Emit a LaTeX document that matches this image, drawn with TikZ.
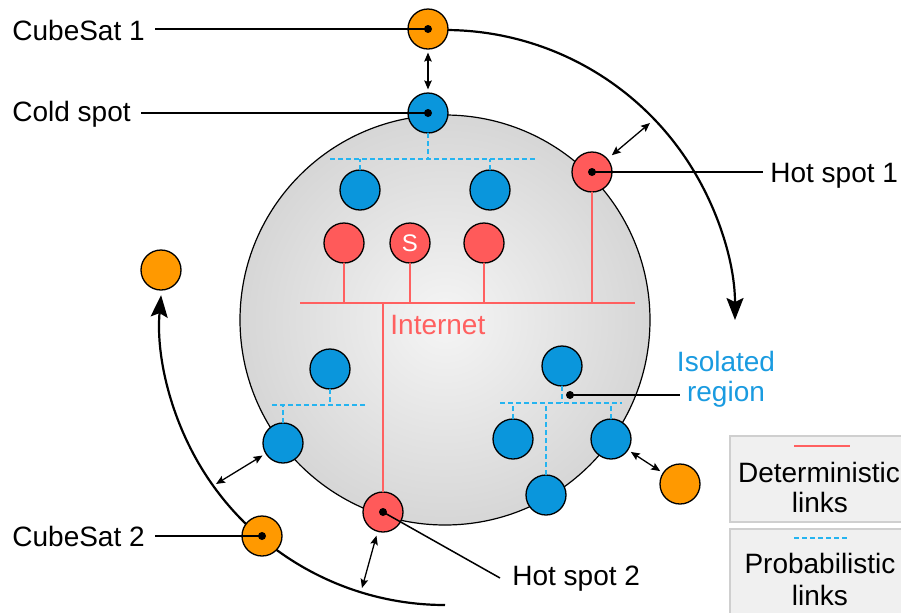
\documentclass[tikz,border=0pt]{standalone}
\usepackage{fontspec}
\setmainfont{Liberation Sans}
\usetikzlibrary{arrows.meta}
\definecolor{satorange}{HTML}{FF9900}
\definecolor{nodeblue}{HTML}{0A96DC}
\definecolor{nodered}{HTML}{FF5A5A}
\definecolor{linkred}{HTML}{FF6060}
\definecolor{linkblue}{HTML}{25B4F0}
\definecolor{txtblue}{HTML}{1A9BE0}
\definecolor{legfill}{HTML}{F0F0F0}
\definecolor{legdraw}{HTML}{CFCFCF}
\begin{document}
\begin{tikzpicture}[x=0.5pt,y=-0.5pt,
  sat/.style={circle, draw=black, line width=0.65pt, minimum size=20pt, inner sep=0pt, outer sep=0pt},
  cubesat/.style={sat, fill=satorange},
  coldnode/.style={sat, fill=nodeblue},
  hotnode/.style={sat, fill=nodered},
  dotmark/.style={circle, fill=black, minimum size=4pt, inner sep=0pt},
  lbl/.style={inner sep=0pt, font=\fontsize{14}{16}\selectfont},
  pin/.style={line width=0.75pt},
  det/.style={draw=linkred, line width=1pt},
  prob/.style={draw=linkblue, line width=1pt, dash pattern=on 2.5pt off 1.5pt},
  dbl/.style={{Stealth[length=4.5pt,width=3.8pt,inset=0.8pt]}-{Stealth[length=4.5pt,width=3.8pt,inset=0.8pt]},
              line width=0.65pt, shorten <=1.8pt, shorten >=1.8pt},
  orbit/.style={-{Stealth[length=11pt,width=8.5pt,inset=2pt]}, line width=1.1pt},
  legbox/.style={fill=legfill, draw=legdraw, line width=0.6pt}
]
\clip (0,0) rectangle (901,612);

% Earth
\node[circle, draw=black, line width=0.6pt, minimum size=205pt, inner sep=0pt, outer sep=0pt,
      inner color=white!96!black, outer color=white!84!black] (earth) at (445,320) {};

% Orbits
\draw[orbit] (earth.center) ++(-93:290) arc[start angle=-93, end angle=0, radius=290];
\draw[orbit] (earth.center) ++(90:285) arc[start angle=90, end angle=185, radius=285];

% Bus ends
\coordinate (cbL) at (330,159);
\coordinate (cbR) at (535,159);
\coordinate (busL) at (300,303);
\coordinate (busR) at (635,303);
\coordinate (lbL) at (272,405);
\coordinate (lbR) at (366,405);
\coordinate (ibL) at (500,403);
\coordinate (ibR) at (622,403);

% Nodes
\node[cubesat] (cs1) at (428,29) {};
\node[coldnode] (cold) at (428,113) {};
\node[coldnode] (bl1) at (360,190) {};
\node[coldnode] (bl2) at (490,190) {};
\node[hotnode] (r1) at (344,243) {};
\node[hotnode, text=white, font=\fontsize{12}{14}\selectfont] (srv) at (410,243) {S};
\node[hotnode] (r3) at (484,243) {};
\node[hotnode] (hs1) at (592,172) {};
\node[coldnode] (bl3) at (330,369) {};
\node[coldnode] (bl4) at (283,443) {};
\node[hotnode] (hs2) at (383,512) {};
\node[cubesat] (cs2) at (262,536) {};
\node[cubesat] (sat3) at (161,270) {};
\node[coldnode] (iso0) at (562,366) {};
\node[coldnode] (iso1) at (513,439) {};
\node[coldnode] (iso2) at (546,495) {};
\node[coldnode] (iso3) at (611,439) {};
\node[cubesat] (sat4) at (680,484) {};

% Probabilistic links
\draw[prob] (cbL) -- (cbR);
\draw[prob] (cold) -- (cold |- cbL);
\draw[prob] (bl1) -- (bl1 |- cbL);
\draw[prob] (bl2) -- (bl2 |- cbL);
\draw[prob] (lbL) -- (lbR);
\draw[prob] (bl3) -- (bl3 |- lbL);
\draw[prob] (bl4) -- (bl4 |- lbL);
\draw[prob] (ibL) -- (ibR);
\draw[prob] (iso0) -- (iso0 |- ibL);
\draw[prob] (iso1) -- (iso1 |- ibL);
\draw[prob] (iso2) -- (iso2 |- ibL);
\draw[prob] (iso3) -- (iso3 |- ibL);

% Deterministic links
\draw[det] (busL) -- (busR);
\draw[det] (r1) -- (r1 |- busL);
\draw[det] (srv) -- (srv |- busL);
\draw[det] (r3) -- (r3 |- busL);
\draw[det] (hs1) -- (hs1 |- busL);
\draw[det] (hs2) -- (hs2 |- busL);
\node[lbl, anchor=base west, text=linkred] (tNet) at (390,334) {Internet};

% Two-way links
\coordinate (a1) at (650,123);
\coordinate (a2) at (216,484);
\coordinate (a3) at (362,588);
\draw[dbl] (cs1) -- (cold);
\draw[dbl, shorten <=3pt, shorten >=0pt] (hs1) -- (a1);
\draw[dbl, shorten <=2pt, shorten >=0pt] (bl4) -- (a2);
\draw[dbl, shorten <=2.3pt, shorten >=0pt] (hs2) -- (a3);
\draw[dbl] (iso3) -- (sat4);

% Labels
\node[lbl, anchor=base west] (tCS1) at (12,40) {CubeSat 1};
\node[lbl, anchor=base west] (tCold) at (12,121) {Cold spot};
\node[lbl, anchor=base west] (tCS2) at (12,546) {CubeSat 2};
\node[lbl, anchor=base west] (tHS1) at (770,182) {Hot spot 1};
\node[lbl, anchor=base west] (tHS2) at (512,585) {Hot spot 2};
\node[lbl, anchor=base, text=txtblue] (tIso) at (726,371) {Isolated};
\node[lbl, anchor=base, text=txtblue] (tReg) at (726,401) {region};

\draw[pin] ([xshift=5pt]tCS1.east |- cs1) -- (cs1.center);
\draw[pin] ([xshift=5pt]tCold.east |- cold) -- (cold.center);
\draw[pin] ([xshift=5pt]tCS2.east |- cs2) -- (cs2.center);
\draw[pin] (hs1.center) -- ([xshift=-3.5pt]tHS1.west |- hs1);
\coordinate (hs2end) at (500,578);
\draw[pin] (hs2.center) -- (hs2end);
\coordinate (isodot) at (570,395);
\coordinate (isoend) at (680,395);
\draw[pin] (isodot) -- (isoend);

\node[dotmark] (d1) at (cs1.center) {};
\node[dotmark] (d2) at (cold.center) {};
\node[dotmark] (d3) at (cs2.center) {};
\node[dotmark] (d4) at (hs1.center) {};
\node[dotmark] (d5) at (hs2.center) {};
\node[dotmark] (d6) at (isodot) {};

% Legend
\path[legbox] (730,436) rectangle (912,522);
\path[legbox] (730,529) rectangle (912,620);
\draw[det] (794,446) -- (850,446);
\draw[prob] (794,538) -- (850,538);
\node[lbl, anchor=base] (tDet) at (819,482) {Deterministic};
\node[lbl, anchor=base] (tDl) at (820,512) {links};
\node[lbl, anchor=base] (tProb) at (820,573) {Probabilistic};
\node[lbl, anchor=base] (tPl) at (820,605) {links};
\end{tikzpicture}
\end{document}
